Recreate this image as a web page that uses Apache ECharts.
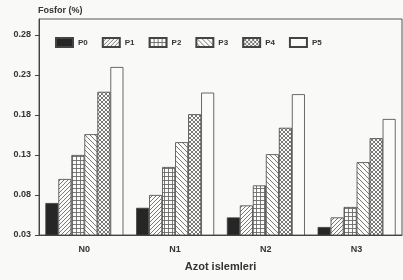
<!DOCTYPE html>
<html>
<head>
<meta charset="utf-8">
<script src="https://cdn.jsdelivr.net/npm/echarts@6/dist/echarts.min.js"></script>
<style>
  html, body { margin: 0; padding: 0; background: #f9f9f7; }
  #chart { width: 403px; height: 280px; }
</style>
</head>
<body>
<div id="chart"></div>
<script>
// data
const categories = ["N0", "N1", "N2", "N3"];
const seriesNames = ["P0", "P1", "P2", "P3", "P4", "P5"];
const p0 = [0.070, 0.064, 0.052, 0.040];
const p1 = [0.100, 0.080, 0.067, 0.052];
const p2 = [0.130, 0.115, 0.092, 0.065];
const p3 = [0.156, 0.146, 0.131, 0.121];
const p4 = [0.209, 0.181, 0.164, 0.151];
const p5 = [0.240, 0.208, 0.206, 0.175];
const yTicks = [0.03, 0.08, 0.13, 0.18, 0.23, 0.28];

const values = [p0, p1, p2, p3, p4, p5];

// small canvas tiles for the hatch fills
function tile(size, draw) {
    const c = document.createElement("canvas");
    c.width = size;
    c.height = size;
    const ctx = c.getContext("2d");
    ctx.fillStyle = "#fbfbf9";
    ctx.fillRect(0, 0, size, size);
    ctx.strokeStyle = "#6a6a6a";
    ctx.lineWidth = 0.9;
    draw(ctx, size);
    return { image: c, repeat: "repeat" };
}

function slash(ctx, s) {
    ctx.beginPath();
    ctx.moveTo(0, s); ctx.lineTo(s, 0);
    ctx.moveTo(-1, 1); ctx.lineTo(1, -1);
    ctx.moveTo(s - 1, s + 1); ctx.lineTo(s + 1, s - 1);
    ctx.stroke();
}

function backslash(ctx, s) {
    ctx.beginPath();
    ctx.moveTo(0, 0); ctx.lineTo(s, s);
    ctx.moveTo(-1, s - 1); ctx.lineTo(1, s + 1);
    ctx.moveTo(s - 1, -1); ctx.lineTo(s + 1, 1);
    ctx.stroke();
}

const fills = [
    "#262626",
    tile(4, slash),
    tile(4, (ctx, s) => {
        ctx.beginPath();
        ctx.moveTo(0.5, 0); ctx.lineTo(0.5, s);
        ctx.moveTo(0, 0.5); ctx.lineTo(s, 0.5);
        ctx.stroke();
    }),
    tile(5, backslash),
    tile(4, (ctx, s) => { slash(ctx, s); backslash(ctx, s); }),
    "#fbfbf9"
];

const chart = echarts.init(document.getElementById("chart"));

const textFont = { fontFamily: "Liberation Sans, Arial, sans-serif", fontWeight: "bold", color: "#333" };

chart.setOption({
    animation: false,
    backgroundColor: "#f9f9f7",
    grid: {
        left: 39, right: 1, top: 19, bottom: 45,
        show: true, borderColor: "#555", borderWidth: 1
    },
    legend: {
        left: 55, top: 37, padding: 0,
        icon: "rect",
        itemWidth: 17, itemHeight: 9, itemGap: 14,
        textStyle: { ...textFont, fontSize: 8 },
        data: seriesNames
    },
    xAxis: {
        type: "category",
        data: categories,
        name: "Azot islemleri",
        nameLocation: "middle",
        nameGap: 26,
        nameTextStyle: { ...textFont, fontSize: 11 },
        axisLine: { lineStyle: { color: "#444", width: 1 } },
        axisTick: { alignWithLabel: true, length: 4, lineStyle: { color: "#444" } },
        axisLabel: { ...textFont, fontSize: 9, margin: 10 }
    },
    yAxis: {
        type: "value",
        min: 0.03,
        max: 0.30,
        name: "Fosfor (%)",
        nameLocation: "end",
        nameGap: 4,
        nameTextStyle: { ...textFont, fontSize: 9, align: "left", padding: [0, 0, 0, -1] },
        splitLine: { show: false },
        axisLine: { show: true, lineStyle: { color: "#444", width: 1 } },
        axisTick: { show: true, length: 4, customValues: yTicks, lineStyle: { color: "#444" } },
        axisLabel: {
            ...textFont, fontSize: 9, margin: 8,
            customValues: yTicks,
            formatter: v => v.toFixed(2)
        }
    },
    series: seriesNames.map((name, i) => ({
        name,
        type: "bar",
        data: values[i],
        barGap: "0%",
        barCategoryGap: "14%",
        itemStyle: { color: fills[i], borderColor: "#444", borderWidth: 0.8 }
    }))
});
</script>
</body>
</html>
